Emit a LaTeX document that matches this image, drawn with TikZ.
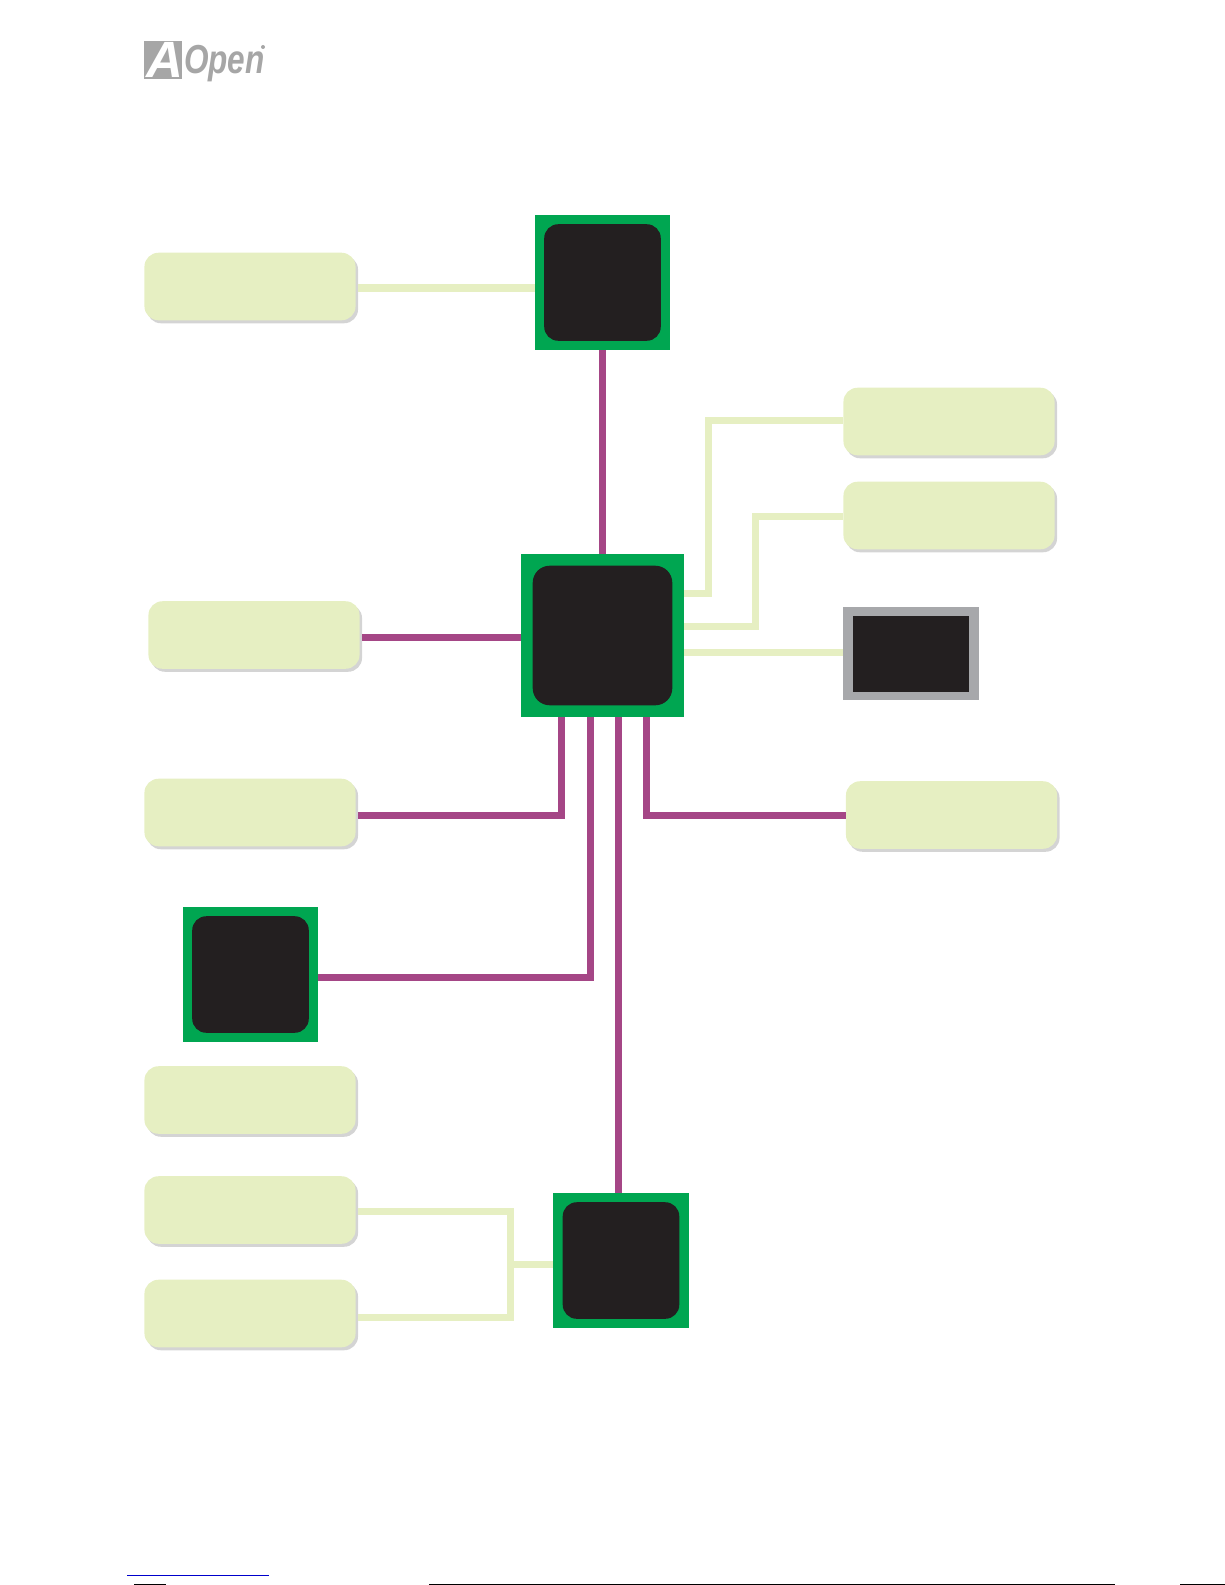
\documentclass[tikz,border=0pt]{standalone}
\usepackage{fontspec}
\setmainfont{Liberation Sans}
\usetikzlibrary{shadows}
\definecolor{chipgreen}{HTML}{00A651}
\definecolor{chipdark}{HTML}{231F20}
\definecolor{boxlight}{HTML}{E6EFC2}
\definecolor{boxshade}{HTML}{D4D4D4}
\definecolor{busviolet}{HTML}{A54686}
\definecolor{framegray}{HTML}{A7A8AB}
\definecolor{logogray}{HTML}{A6A6A6}
\tikzset{
    every node/.style={outer sep=0pt},
    chipouter/.style={fill=chipgreen, inner sep=0pt, minimum size=1.35cm},
    chipinner/.style={fill=chipdark, inner sep=0pt, minimum size=1.165cm, rounded corners=0.14cm},
    slotbox/.style={fill=boxlight, inner sep=0pt, minimum width=2.11cm, minimum height=0.675cm, rounded corners=0.14cm,
        general shadow={fill=boxshade, rounded corners=0.14cm, shadow xshift=0.025cm, shadow yshift=-0.03cm}},
    leftslot/.style={slotbox, outer xsep=0.025cm},
    fastbus/.style={draw=busviolet, line width=0.07cm},
    slowbus/.style={draw=boxlight, line width=0.07cm}
}
\begin{document}
\begin{tikzpicture}[x=0.01cm, y=-0.01cm]
    \useasboundingbox (0,0) rectangle (1225,1585);

    % logo
    \node[fill=logogray, inner sep=0pt, minimum width=0.38cm, minimum height=0.37cm] (logosq) at (163,60) {};
    \node[text=white, font=\bfseries\itshape\fontsize{14.5}{14.5}\selectfont, inner sep=0pt] (logoa) at (165,60) {A};
    \node[text=logogray, font=\bfseries\itshape\fontsize{11.5}{11.5}\selectfont, anchor=base west, inner sep=0pt, xscale=0.78] (logoopen) at (184,74) {Open};
    \node[fill=logogray, circle, inner sep=0pt, minimum size=0.04cm] (logor) at (263,47) {};

    % slots
    \node[leftslot] (slotA) at (250,286.5) {};
    \node[leftslot] (slotB) at (254,635) {};
    \node[leftslot] (slotC) at (250,812.5) {};
    \node[slotbox] (slotD) at (250,1100) {};
    \node[leftslot] (slotE) at (250,1210) {};
    \node[leftslot] (slotF) at (250,1313.5) {};
    \node[slotbox] (slotG) at (949,421.5) {};
    \node[slotbox] (slotH) at (949,515.5) {};
    \node[slotbox] (slotI) at (951.5,815) {};

    % chips
    \node[chipouter] (chipTop) at (602.5,282.5) {};
    \node[chipouter, minimum size=1.63cm] (chipMid) at (602.5,635.5) {};
    \node[chipouter] (chipLeft) at (250.5,974.5) {};
    \node[chipouter] (chipLow) at (621,1260.5) {};
    \node[fill=framegray, inner sep=0pt, minimum width=1.36cm, minimum height=0.93cm] (frameR) at (911,653.5) {};

    % edges
    \draw[slowbus] (slotA.east |- 0,288) -- (chipTop.west |- 0,288);
    \draw[fastbus] (chipTop.south) -- (chipMid.north);
    \draw[fastbus] (slotB.east |- 0,637.5) -- (chipMid.west |- 0,637.5);
    \draw[slowbus] (chipMid.east |- 0,593.5) -| (708,420) -- (slotG.west |- 0,420);
    \draw[slowbus] (chipMid.east |- 0,626) -| (755.7,516.5) -- (slotH.west |- 0,516.5);
    \draw[slowbus] (chipMid.east |- 0,652.3) -- (frameR.west |- 0,652.3);
    \draw[fastbus] (chipMid.south -| 561,0) |- (slotC.east |- 0,815);
    \draw[fastbus] (chipMid.south -| 590.3,0) |- (chipLeft.east |- 0,977);
    \draw[fastbus] (chipMid.south -| 618.3,0) -- (chipLow.north -| 618.3,0);
    \draw[fastbus] (chipMid.south -| 646.7,0) |- (slotI.west |- 0,815);
    \draw[slowbus] (slotE.east |- 0,1211) -| (510.5,1317) -- (slotF.east |- 0,1317);
    \draw[slowbus] (510.5,1264) -- (chipLow.west |- 0,1264);

    % chip faces
    \node[chipinner] (faceTop) at (chipTop) {};
    \node[chipinner, minimum size=1.395cm, rounded corners=0.17cm] (faceMid) at (chipMid) {};
    \node[chipinner] (faceLeft) at (chipLeft) {};
    \node[chipinner] (faceLow) at (chipLow) {};
    \node[fill=chipdark, inner sep=0pt, minimum width=1.16cm, minimum height=0.76cm] (faceR) at (911,654) {};

    % cut-off page footer
    \fill[blue!80!black] (127,1574.5) rectangle (269,1576);
    \fill[black] (134,1584) rectangle (166,1585);
    \fill[black] (429,1584) rectangle (1115,1585);
    \fill[black] (1180,1584) rectangle (1225,1585);
\end{tikzpicture}
\end{document}
